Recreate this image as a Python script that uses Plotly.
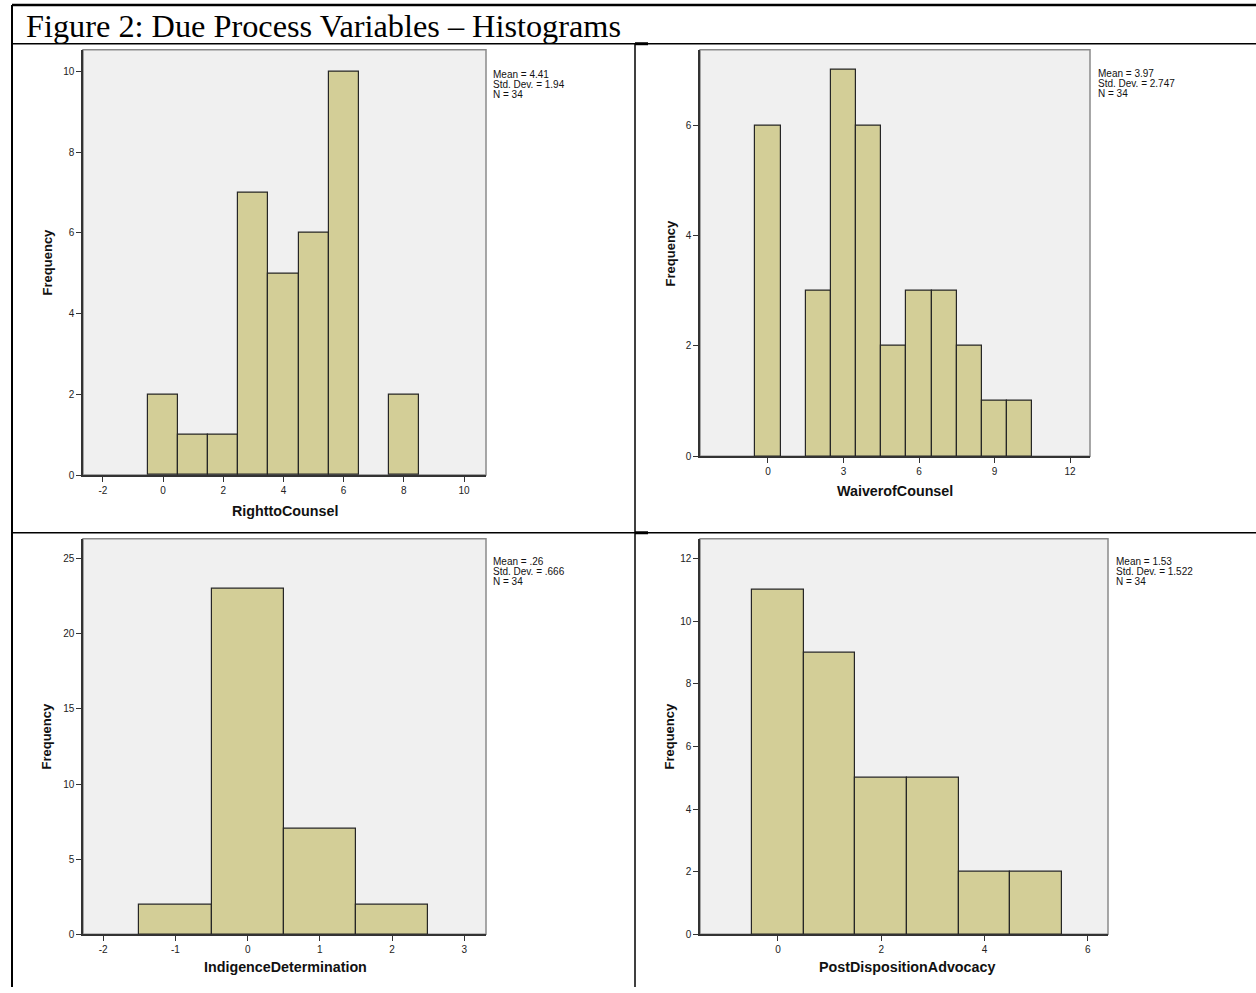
import plotly.graph_objects as go

W, H = 1256, 993

# Histogram counts per variable (bin centres, frequency)
right_bins = [0, 1, 2, 3, 4, 5, 6, 7, 8]
right_counts = [2, 1, 1, 7, 5, 6, 10, 0, 2]

waiver_bins = [0, 1, 2, 3, 4, 5, 6, 7, 8, 9, 10]
waiver_counts = [6, 0, 3, 7, 6, 2, 3, 3, 2, 1, 1]

indig_bins = [-1, 0, 1, 2]
indig_counts = [2, 23, 7, 2]

post_bins = [0, 1, 2, 3, 4, 5]
post_counts = [11, 9, 5, 5, 2, 2]

variables = ["RighttoCounsel", "WaiverofCounsel",
             "IndigenceDetermination", "PostDispositionAdvocacy"]
means = ["4.41", "3.97", ".26", "1.53"]
std_devs = ["1.94", "2.747", ".666", "1.522"]
n_obs = [34, 34, 34, 34]

x_ticks = [[-2, 0, 2, 4, 6, 8, 10], [0, 3, 6, 9, 12],
           [-2, -1, 0, 1, 2, 3], [0, 2, 4, 6]]
y_ticks = [[0, 2, 4, 6, 8, 10], [0, 2, 4, 6],
           [0, 5, 10, 15, 20, 25], [0, 2, 4, 6, 8, 10, 12]]

title_text = "Figure 2: Due Process Variables \u2013 Histograms"

bins_all = [right_bins, waiver_bins, indig_bins, post_bins]
counts_all = [right_counts, waiver_counts, indig_counts, post_counts]

# Panel geometry in pixels: (left, top, right, bottom)
boxes = [(83, 50, 486, 478), (700, 50, 1090, 459),
         (83, 542, 486, 940), (700, 542, 1108, 940)]
x_ranges = [[-2.66, 10.73], [-2.70, 12.79], [-2.28, 3.30], [-1.51, 6.39]]
y_ranges = [[0, 10.54], [0, 7.37], [0, 26.32], [0, 12.63]]
stats_pos = [(491, 75), (1096, 74), (491, 565), (1114, 565)]
xtitle_pos = [(285, 514), (895, 494), (285, 973), (907, 973)]
ytitle_pos = [(47, 264), (670, 255), (47, 741), (670, 741)]

BAR = "#D3CE97"
BG = "#F0F0F0"
SANS = "Liberation Sans, Arial, sans-serif"
SERIF = "Liberation Serif, Times New Roman, serif"


def px(x):
    return x / W


def py(y):
    return 1 - y / H


def label(v):
    # plain hyphen for negatives, as in the printed axes
    return str(v)


fig = go.Figure()
shapes = []
annotations = []

for i in range(4):
    n = "" if i == 0 else str(i + 1)
    xs = [b for b, c in zip(bins_all[i], counts_all[i]) if c > 0]
    ys = [c for c in counts_all[i] if c > 0]
    fig.add_trace(go.Bar(
        x=xs, y=ys, width=1, xaxis="x" + n, yaxis="y" + n,
        marker=dict(color=BAR, line=dict(color="#262626", width=1.2)),
        showlegend=False, hoverinfo="x+y",
    ))
    l, t, r, b = boxes[i]
    common = dict(showgrid=False, zeroline=False, showline=True,
                  linecolor="#333333", linewidth=1.5, ticks="outside",
                  ticklen=5, tickwidth=1, tickcolor="#333333",
                  tickfont=dict(family=SANS, size=10, color="#222222"))
    fig.update_layout(**{
        "xaxis" + n: dict(domain=[px(l), px(r)], range=x_ranges[i],
                          tickvals=x_ticks[i],
                          ticktext=[label(v) for v in x_ticks[i]],
                          anchor="y" + n, **common),
        "yaxis" + n: dict(domain=[py(b), py(t)], range=y_ranges[i],
                          tickvals=y_ticks[i],
                          ticktext=[label(v) for v in y_ticks[i]],
                          anchor="x" + n, **common),
    })
    xr = "x" + n
    yr = "y" + n
    shapes.append(dict(type="rect", xref=xr + " domain", yref=yr + " domain",
                       x0=0, x1=1, y0=0, y1=1, layer="below",
                       line=dict(color="#8a8a8a", width=1.5)))

    sx, sy = stats_pos[i]
    lines = ["Mean = " + means[i], "Std. Dev. = " + std_devs[i],
             "N = " + str(n_obs[i])]
    for k, line in enumerate(lines):
        annotations.append(dict(
            x=px(sx), y=py(sy + 10 * k), xref="paper", yref="paper",
            text=line, showarrow=False, xanchor="left", yanchor="middle",
            font=dict(family=SANS, size=10, color="#111111")))

    tx, ty = xtitle_pos[i]
    annotations.append(dict(
        x=px(tx), y=py(ty), xref="paper", yref="paper",
        text="<b>" + variables[i] + "</b>", showarrow=False,
        xanchor="center", yanchor="middle",
        font=dict(family=SANS, size=14.3, color="#111111")))

    fx, fy = ytitle_pos[i]
    annotations.append(dict(
        x=px(fx), y=py(fy), xref="paper", yref="paper",
        text="<b>Frequency</b>", showarrow=False, textangle=-90,
        xanchor="center", yanchor="middle",
        font=dict(family=SANS, size=13, color="#111111")))

annotations.append(dict(
    x=px(24), y=py(26), xref="paper", yref="paper", text=title_text,
    showarrow=False, xanchor="left", yanchor="middle",
    font=dict(family=SERIF, size=32.3, color="#000000")))

# Table rules around the figure cells
rules = [
    (12, 5, 1256, 5, 2.5),
    (12, 5, 12, 993, 2),
    (12, 44, 1256, 44, 1.5),
    (635, 44, 635, 993, 1.5),
    (12, 536, 1256, 536, 1.5),
    (635, 44, 648, 44, 3),
    (635, 536, 648, 536, 3),
]
for x0, y0, x1, y1, w in rules:
    shapes.append(dict(type="line", xref="paper", yref="paper",
                       x0=px(x0), y0=py(y0), x1=px(x1), y1=py(y1),
                       line=dict(color="#000000", width=w)))

fig.update_layout(
    width=W, height=H, margin=dict(l=0, r=0, t=0, b=0),
    paper_bgcolor="white", plot_bgcolor=BG, bargap=0,
    shapes=shapes, annotations=annotations,
)

fig.write_html("out.html")
